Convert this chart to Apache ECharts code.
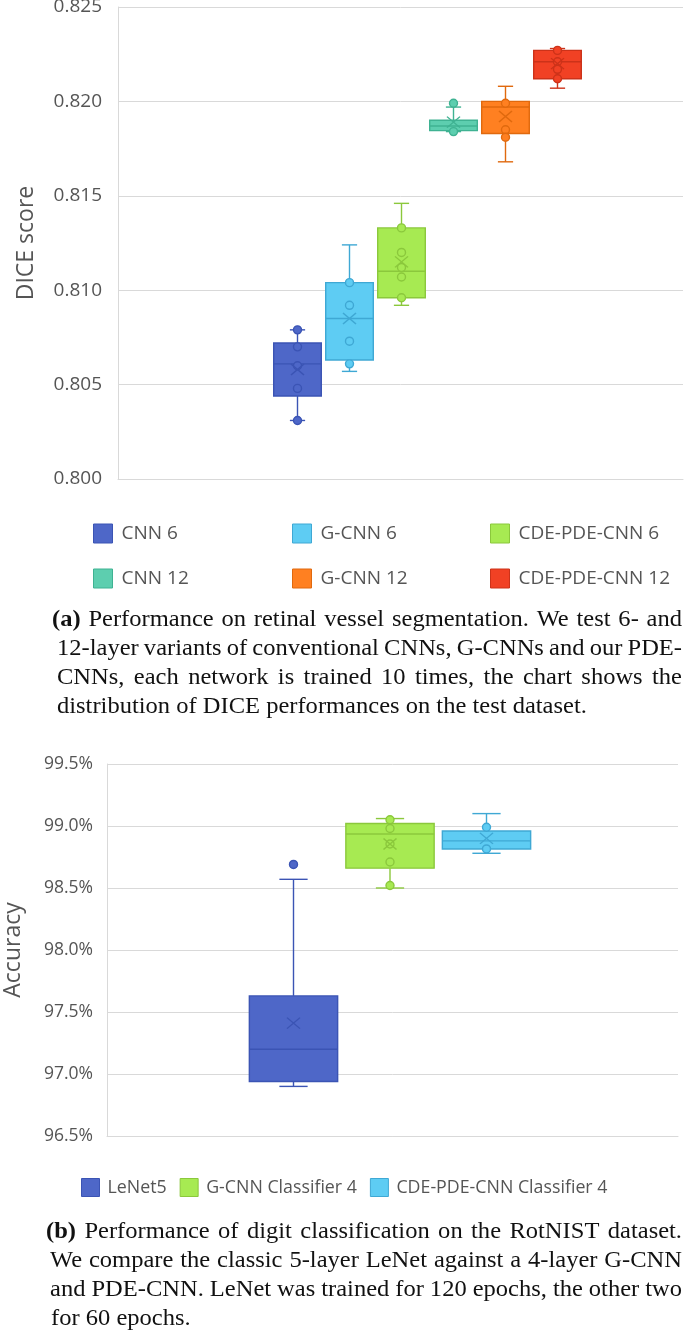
<!DOCTYPE html>
<html>
<head>
<meta charset="utf-8">
<script src="https://cdn.jsdelivr.net/npm/echarts@6/dist/echarts.min.js"></script>
<style>
  html, body { margin: 0; padding: 0; background: #fff; }
  #chart { width: 685px; height: 1333px; }
</style>
</head>
<body>
<div id="chart"></div>
<script>
// (a) retinal vessel segmentation, DICE score
var segNames  = ['CNN 6', 'G-CNN 6', 'CDE-PDE-CNN 6', 'CNN 12', 'G-CNN 12', 'CDE-PDE-CNN 12'];
var segMin    = [0.8031, 0.8057, 0.8092, 0.8184, 0.8168, 0.8207];
var segQ1     = [0.8044, 0.8063, 0.8096, 0.81845, 0.8183, 0.8212];
var segMedian = [0.8061, 0.8085, 0.8110, 0.8187, 0.8197, 0.8221];
var segQ3     = [0.8072, 0.8104, 0.8133, 0.8190, 0.8200, 0.8227];
var segMax    = [0.8079, 0.8124, 0.8146, 0.8197, 0.8208, 0.8228];
var segMean   = [0.8058, 0.8085, 0.8115, 0.8189, 0.8192, 0.8220];
var segPoints = [
    [0.8079, 0.8070, 0.8060, 0.8048, 0.8031],
    [0.8104, 0.8092, 0.8073, 0.8061],
    [0.8133, 0.8120, 0.8112, 0.8107, 0.8096],
    [0.8199, 0.8184],
    [0.8199, 0.8185, 0.8181],
    [0.8227, 0.8221, 0.8217, 0.8212]
];

// (b) RotNIST digit classification, accuracy in %
var digNames  = ['LeNet5', 'G-CNN Classifier 4', 'CDE-PDE-CNN Classifier 4'];
var digMin    = [96.90, 98.50, 98.78];
var digQ1     = [96.94, 98.66, 98.815];
var digMedian = [97.20, 98.935, 98.88];
var digQ3     = [97.63, 99.02, 98.96];
var digMax    = [98.57, 99.06, 99.10];
var digMean   = [97.41, 98.855, 98.90];
var digPoints = [[98.69], [99.05, 98.98, 98.855, 98.71, 98.52], [98.99, 98.815]];

var captionA = [
    '(a) Performance on retinal vessel segmentation. We test 6- and',
    '12-layer variants of conventional CNNs, G-CNNs and our PDE-',
    'CNNs, each network is trained 10 times, the chart shows the',
    'distribution of DICE performances on the test dataset.'
];
var captionB = [
    '(b) Performance of digit classification on the RotNIST dataset.',
    'We compare the classic 5-layer LeNet against a 4-layer G-CNN',
    'and PDE-CNN. LeNet was trained for 120 epochs, the other two',
    'for 60 epochs.'
];

var segFill = ['#4e67c8', '#5eccf3', '#a7ea52', '#5dceaf', '#ff8021', '#f14124'];
var segLine = ['#3b54b4', '#3fa8d4', '#8bc83c', '#3fb292', '#e0690e', '#cc3219'];
var digFill = ['#4e67c8', '#a7ea52', '#5eccf3'];
var digLine = ['#3b54b4', '#8bc83c', '#3fa8d4'];

var GRAY = '#555555';
var GRID = '#d9d9d9';
var UI_FONT = 'Open Sans';
var BOX_RATIO = 0.915;
var CAP_RATIO = 0.32;
var CROSS = 'path://M0,0L10,10M10,0L0,10';

function boxRenderer(fill, stroke) {
    return function (params, api) {
        var c = api.value(0);
        var pMin = api.coord([c, api.value(1)]);
        var pQ1 = api.coord([c, api.value(2)]);
        var pMed = api.coord([c, api.value(3)]);
        var pQ3 = api.coord([c, api.value(4)]);
        var pMax = api.coord([c, api.value(5)]);
        var half = api.size([1, 0])[0] * BOX_RATIO / 2;
        var cap = half * CAP_RATIO;
        var x = pMed[0];
        var ln = { stroke: stroke, lineWidth: 1.4 };
        return {
            type: 'group',
            children: [
                { type: 'line', shape: { x1: x, y1: pMax[1], x2: x, y2: pQ3[1] }, style: ln },
                { type: 'line', shape: { x1: x, y1: pQ1[1], x2: x, y2: pMin[1] }, style: ln },
                { type: 'line', shape: { x1: x - cap, y1: pMax[1], x2: x + cap, y2: pMax[1] }, style: ln },
                { type: 'line', shape: { x1: x - cap, y1: pMin[1], x2: x + cap, y2: pMin[1] }, style: ln },
                { type: 'rect', shape: { x: x - half, y: pQ3[1], width: half * 2, height: pQ1[1] - pQ3[1] },
                  style: { fill: fill, stroke: stroke, lineWidth: 1.4 } },
                { type: 'line', shape: { x1: x - half, y1: pMed[1], x2: x + half, y2: pMed[1] }, style: ln }
            ]
        };
    };
}

function addGroup(series, names, fills, lines, mins, q1s, meds, q3s, maxs, means, points, xi, yi) {
    names.forEach(function (name, i) {
        series.push({
            type: 'custom', name: name, xAxisIndex: xi, yAxisIndex: yi, silent: true,
            itemStyle: { color: fills[i] },
            encode: { x: 0, y: [1, 2, 3, 4, 5] },
            renderItem: boxRenderer(fills[i], lines[i]),
            data: [[i, mins[i], q1s[i], meds[i], q3s[i], maxs[i]]],
            z: 2
        });
        series.push({
            type: 'scatter', name: name, xAxisIndex: xi, yAxisIndex: yi, silent: true,
            symbol: 'circle', symbolSize: 8,
            itemStyle: { color: fills[i], borderColor: lines[i], borderWidth: 1.4, opacity: 1 },
            data: points[i].map(function (v) { return [i, v]; }),
            z: 3
        });
        series.push({
            type: 'scatter', name: name, xAxisIndex: xi, yAxisIndex: yi, silent: true,
            symbol: CROSS, symbolSize: [13, 11],
            itemStyle: { color: 'transparent', borderColor: lines[i], borderWidth: 1.4, opacity: 1 },
            data: [[i, means[i]]],
            z: 4
        });
    });
}

var series = [];
addGroup(series, segNames, segFill, segLine, segMin, segQ1, segMedian, segQ3, segMax, segMean, segPoints, 1, 1);
addGroup(series, digNames, digFill, digLine, digMin, digQ1, digMedian, digQ3, digMax, digMean, digPoints, 3, 3);

function legendItem(name, fill, line) {
    return { name: name, icon: 'rect', itemStyle: { color: fill, borderColor: line, borderWidth: 1 } };
}

var legendColLeft = [93, 292, 490];
var legends = [0, 1, 2].map(function (col) {
    return {
        orient: 'vertical', left: legendColLeft[col], top: 523.5, padding: 0,
        itemWidth: 19, itemHeight: 19, itemGap: 25, selectedMode: false,
        textStyle: { fontFamily: UI_FONT, fontSize: 19, color: GRAY, padding: [0, 0, 0, 4] },
        data: [legendItem(segNames[col], segFill[col], segLine[col]),
               legendItem(segNames[col + 3], segFill[col + 3], segLine[col + 3])]
    };
});
legends.push({
    orient: 'horizontal', left: 81, top: 1178, padding: 0,
    itemWidth: 18, itemHeight: 18, itemGap: 13, selectedMode: false,
    textStyle: { fontFamily: UI_FONT, fontSize: 17.8, color: GRAY, padding: [0, 0, 0, 3] },
    data: digNames.map(function (n, i) { return legendItem(n, digFill[i], digLine[i]); })
});

// caption text, justified word by word like the printed figure
var CAP_SIZE = 22.5;
var CAP_SX = 1.09;
var CAP_RIGHT = 682;
function captionElements(lines, lefts, firstBaseline, lineStep) {
    var ctx = document.createElement('canvas').getContext('2d');
    var els = [];
    lines.forEach(function (line, i) {
        var words = line.split(' ');
        var fonts = words.map(function (w, j) {
            return (i === 0 && j === 0 ? 'bold ' : '') + CAP_SIZE + 'px "Liberation Serif"';
        });
        var widths = words.map(function (w, j) {
            ctx.font = fonts[j];
            return ctx.measureText(w).width * CAP_SX;
        });
        ctx.font = CAP_SIZE + 'px "Liberation Serif"';
        var space = ctx.measureText(' ').width * CAP_SX;
        var total = widths.reduce(function (a, b) { return a + b; }, 0);
        var last = i === lines.length - 1;
        var gap = last ? space : (CAP_RIGHT - lefts[i] - total) / (words.length - 1);
        var x = lefts[i];
        var y = firstBaseline + i * lineStep - CAP_SIZE * 0.34;
        words.forEach(function (w, j) {
            els.push({
                type: 'text', x: x, y: y, scaleX: CAP_SX, silent: true,
                style: { text: w, font: fonts[j], fill: '#111', verticalAlign: 'middle', align: 'left' }
            });
            x += widths[j] + gap;
        });
    });
    return els;
}

var graphics = captionElements(captionA, [52, 57, 57, 57], 628, 29)
    .concat(captionElements(captionB, [46, 50, 50, 51], 1240, 29));

var option = {
    backgroundColor: '#ffffff',
    animation: false,
    grid: [
        { left: 118, top: 7, width: 565, height: 472, containLabel: false, outerBoundsMode: 'none' },
        { left: 271.5, top: 7, width: 312, height: 472, containLabel: false, outerBoundsMode: 'none' },
        { left: 107, top: 764, width: 571, height: 372, containLabel: false, outerBoundsMode: 'none' },
        { left: 245.25, top: 764, width: 289.5, height: 372, containLabel: false, outerBoundsMode: 'none' }
    ],
    xAxis: [
        { gridIndex: 0, type: 'category', data: [''], axisLine: { lineStyle: { color: GRID } },
          axisTick: { show: false }, axisLabel: { show: false } },
        { gridIndex: 1, type: 'category', data: segNames, show: false },
        { gridIndex: 2, type: 'category', data: [''], axisLine: { lineStyle: { color: GRID } },
          axisTick: { show: false }, axisLabel: { show: false } },
        { gridIndex: 3, type: 'category', data: digNames, show: false }
    ],
    yAxis: [
        { gridIndex: 0, type: 'value', min: 0.8, max: 0.825, interval: 0.005,
          name: 'DICE score', nameLocation: 'middle', nameGap: 80,
          nameTextStyle: { fontFamily: UI_FONT, fontSize: 23, color: GRAY },
          axisLine: { show: true, lineStyle: { color: GRID } }, axisTick: { show: false },
          splitLine: { lineStyle: { color: GRID } },
          axisLabel: { margin: 16, fontFamily: UI_FONT, fontSize: 19, color: GRAY,
                       formatter: function (v) { return v.toFixed(3); } } },
        { gridIndex: 1, type: 'value', min: 0.8, max: 0.825, show: false },
        { gridIndex: 2, type: 'value', min: 96.5, max: 99.5, interval: 0.5,
          name: 'Accuracy', nameLocation: 'middle', nameGap: 82,
          nameTextStyle: { fontFamily: UI_FONT, fontSize: 23, color: GRAY },
          axisLine: { show: true, lineStyle: { color: GRID } }, axisTick: { show: false },
          splitLine: { lineStyle: { color: GRID } },
          axisLabel: { margin: 14, fontFamily: UI_FONT, fontSize: 17.5, color: GRAY,
                       formatter: function (v) { return v.toFixed(1) + '%'; } } },
        { gridIndex: 3, type: 'value', min: 96.5, max: 99.5, show: false }
    ],
    legend: legends,
    graphic: graphics,
    series: series
};

echarts.init(document.getElementById('chart')).setOption(option);
</script>
</body>
</html>
